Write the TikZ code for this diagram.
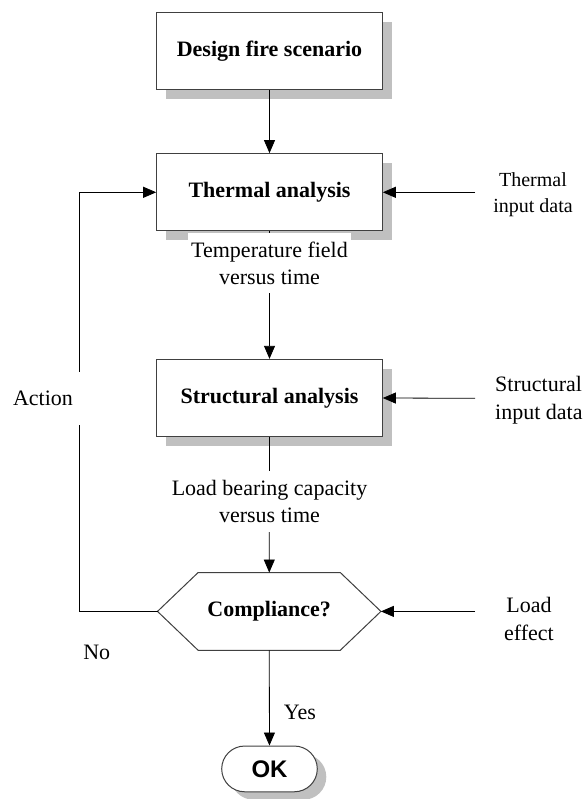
\documentclass[tikz,border=0pt]{standalone}
\usepackage{fontspec}
\setmainfont{Liberation Serif}
\newfontfamily\oksans{Liberation Sans}
\usetikzlibrary{arrows.meta,shapes.misc,shadows,calc}
\definecolor{shadowgray}{RGB}{192,192,192}
\definecolor{edgegray}{RGB}{64,64,64}
\pgfdeclarelayer{background}
\pgfsetlayers{background,main}

\begin{document}
\begin{tikzpicture}[x=1pt,y=-1pt,
  stepbox/.style={draw=edgegray, line width=1pt, fill=white,
    minimum width=225.6pt, minimum height=77.3pt, inner sep=0pt,
    font=\fontsize{22}{27}\selectfont\bfseries,
    general shadow={shadow xshift=9.5pt, shadow yshift=-9.5pt, fill=shadowgray}},
  endbox/.style={rounded rectangle, draw=edgegray, line width=1pt, fill=white,
    minimum width=95.6pt, minimum height=45.7pt, inner sep=0pt,
    font=\oksans\fontsize{24}{28}\selectfont\bfseries,
    general shadow={shadow xshift=9pt, shadow yshift=-8pt, fill=shadowgray}},
  flowlabel/.style={fill=white, inner xsep=3pt, inner ysep=9pt, align=center,
    font=\fontsize{22}{27}\selectfont},
  sidelabel/.style={inner sep=0pt, font=\fontsize{22}{27.5}\selectfont},
  arr/.style={-{Triangle[length=13pt,width=11pt]}, line width=0.8pt, draw=black},
  plain/.style={line width=0.8pt, draw=black}
]
\useasboundingbox (0,0) rectangle (585,799);

% main column
\node[stepbox] (design) at (269.5,51.3) {Design fire scenario};
\node[stepbox] (thermal) at (269.5,192.3) {Thermal analysis};
\node[stepbox] (struct) at (269.5,398) {Structural analysis};
\node[inner sep=0pt, minimum width=223pt, minimum height=77.3pt,
      font=\fontsize{22}{27}\selectfont\bfseries] (comp) at (269.2,611.4) {Compliance?};
\node[endbox] (ok) at (269.5,768.9) {OK};

% hexagon outline of the decision, with its shadow
\begin{pgfonlayer}{background}
  \fill[shadowgray, shift={(10,10)}]
    (comp.west) -- ($(comp.north west)+(40.6,0)$) -- ($(comp.north east)+(-40.6,0)$)
    -- (comp.east) -- ($(comp.south east)+(-40.6,0)$) -- ($(comp.south west)+(40.6,0)$) -- cycle;
  \filldraw[fill=white, draw=edgegray, line width=1pt]
    (comp.west) -- ($(comp.north west)+(40.6,0)$) -- ($(comp.north east)+(-40.6,0)$)
    -- (comp.east) -- ($(comp.south east)+(-40.6,0)$) -- ($(comp.south west)+(40.6,0)$) -- cycle;
\end{pgfonlayer}

% free ends of the side inputs and the feedback corners
\coordinate (tin) at (475,192.3);
\coordinate (sin) at (475,398.3);
\coordinate (lin) at (475,611.4);
\coordinate (fbl) at (79.3,611.4);
\coordinate (fbu) at (79.3,192.3);

% connectors
\draw[arr] (design) -- (thermal);
\draw[arr] (thermal) -- (struct);
\draw[arr] (struct) -- (comp);
\draw[arr] (comp) -- (ok);
\draw[arr] (tin) -- (thermal.east);
\draw[arr] (sin) -- (struct.east);
\draw[arr] (lin) -- (comp.east);
\draw[arr] (comp.west) -- (fbl) -- (fbu) -- (thermal.west);

% labels on the flow
\node[flowlabel] (temp) at (269.5,263) {Temperature field\\versus time};
\node[flowlabel] (load) at (269.5,501.7) {Load bearing capacity\\versus time};
\node[fill=white, inner sep=0pt, minimum width=76pt, minimum height=53pt,
      font=\fontsize{22}{27}\selectfont] (action) at (43,398) {Action};
\node[font=\fontsize{22}{27}\selectfont, inner sep=0pt] (no) at (96.7,652.5) {No};
\node[font=\fontsize{22}{27}\selectfont, inner sep=0pt] (yes) at (300,712.5) {Yes};

% side inputs
\node[sidelabel, align=center, font=\fontsize{20}{26.7}\selectfont] (tlabel) at (533,194.6) {Thermal\\input data};
\node[sidelabel, align=left, anchor=west] (slabel) at (495,400.4) {Structural\\input data};
\node[sidelabel, align=center, font=\fontsize{22}{27.3}\selectfont] (llabel) at (529,618.9) {Load\\effect};
\end{tikzpicture}
\end{document}
